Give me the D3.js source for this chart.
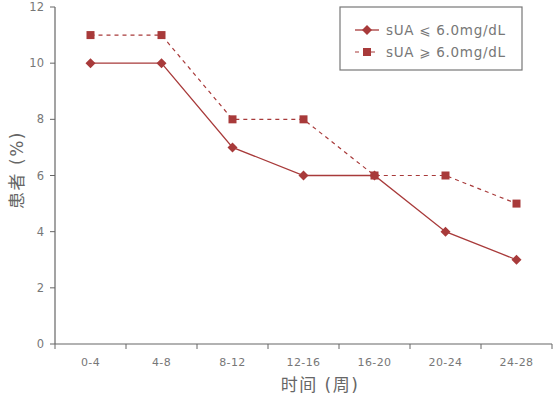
<!DOCTYPE html>
<html><head><meta charset="utf-8">
<script src="https://cdn.jsdelivr.net/npm/d3@7"></script>
<style>
body{margin:0;background:#fff;}
svg{display:block;font-family:"DejaVu Sans","Noto Sans CJK SC",sans-serif;}
</style></head><body>
<svg id="c" width="555" height="398"></svg>
<script>
const categories = ["0-4","4-8","8-12","12-16","16-20","20-24","24-28"];
const seriesLow = [10,10,7,6,6,4,3];
const seriesHigh = [11,11,8,8,6,6,5];
const yTicks = [0,2,4,6,8,10,12];
const legendLabels = ["sUA \u2a7d 6.0mg/dL","sUA \u2a7e 6.0mg/dL"];
const xTitle = "时间 (周)";
const yTitle = "患者 (%)";

const svg = d3.select("#c");
const L = 55, R = 552, T = 7, B = 344;
const color = "#a83a3a";
const axisColor = "#666";

const x = d3.scaleBand().domain(categories).range([L, R]).padding(0);
const y = d3.scaleLinear().domain([0,12]).range([B, T]);

// axes
const gx = svg.append("g").attr("transform",`translate(0,${B})`);
gx.append("line").attr("x1",L).attr("x2",R).attr("stroke",axisColor).attr("stroke-width",1.2);
const bounds = categories.map(c=>x(c)).concat([R]);
gx.selectAll(".tk").data(bounds).enter().append("line")
  .attr("x1",d=>d).attr("x2",d=>d).attr("y1",0).attr("y2",5).attr("stroke",axisColor);
gx.selectAll(".lb").data(categories).enter().append("text")
  .attr("x",d=>x(d)+x.bandwidth()/2).attr("y",22).attr("text-anchor","middle")
  .attr("fill","#777").attr("font-size",11).attr("letter-spacing",0.4).text(d=>d);

const gy = svg.append("g").attr("transform",`translate(${L},0)`);
gy.append("line").attr("y1",T).attr("y2",B).attr("stroke",axisColor).attr("stroke-width",1.2);
gy.selectAll(".tk").data(yTicks).enter().append("line")
  .attr("x1",-5).attr("x2",0).attr("y1",d=>y(d)).attr("y2",d=>y(d)).attr("stroke",axisColor);
gy.selectAll(".lb").data(yTicks).enter().append("text")
  .attr("x",-11).attr("y",d=>y(d)).attr("dy","0.35em").attr("text-anchor","end")
  .attr("fill","#777").attr("font-size",11.5).text(d=>d);

svg.append("text").attr("x",320).attr("y",391).attr("text-anchor","middle")
  .attr("fill","#666").attr("font-size",17).attr("letter-spacing",1.5).text(xTitle);
svg.append("text").attr("transform",`translate(23,170) rotate(-90)`)
  .attr("text-anchor","middle").attr("fill","#666").attr("font-size",17).attr("letter-spacing",1.5).text(yTitle);

const cx = d => x(d)+x.bandwidth()/2;
const line = d3.line().x((d,i)=>cx(categories[i])).y(d=>y(d));

// dashed high series
svg.append("path").datum(seriesHigh).attr("d",line).attr("fill","none")
  .attr("stroke",color).attr("stroke-width",1.2).attr("stroke-dasharray","4,4");
svg.selectAll(".sq").data(seriesHigh).enter().append("rect")
  .attr("x",(d,i)=>cx(categories[i])-4).attr("y",d=>y(d)-4).attr("width",8).attr("height",8)
  .attr("fill",color);

// solid low series
svg.append("path").datum(seriesLow).attr("d",line).attr("fill","none")
  .attr("stroke",color).attr("stroke-width",1.3);
const dm = "M0,-5L5,0L0,5L-5,0Z";
svg.selectAll(".dm").data(seriesLow).enter().append("path")
  .attr("d",dm).attr("transform",(d,i)=>`translate(${cx(categories[i])},${y(d)})`)
  .attr("fill",color);

// legend
const lg = svg.append("g");
lg.append("rect").attr("x",340).attr("y",7).attr("width",182).attr("height",63)
  .attr("fill","#fff").attr("stroke","#777").attr("stroke-width",1.2);
const rows = [30,52];
lg.append("line").attr("x1",355).attr("x2",379).attr("y1",rows[0]).attr("y2",rows[0]).attr("stroke",color).attr("stroke-width",1.3);
lg.append("path").attr("d",dm).attr("transform",`translate(367,${rows[0]})`).attr("fill",color);
lg.append("line").attr("x1",355).attr("x2",379).attr("y1",rows[1]).attr("y2",rows[1]).attr("stroke",color).attr("stroke-width",1.2).attr("stroke-dasharray","4,4");
lg.append("rect").attr("x",363).attr("y",rows[1]-4).attr("width",8).attr("height",8).attr("fill",color);
lg.selectAll(".lt").data(legendLabels).enter().append("text")
  .attr("x",386).attr("y",(d,i)=>rows[i]).attr("dy","0.35em").attr("fill","#777")
  .attr("font-size",13.5).attr("letter-spacing",0.7).text(d=>d);
</script>
</body></html>
